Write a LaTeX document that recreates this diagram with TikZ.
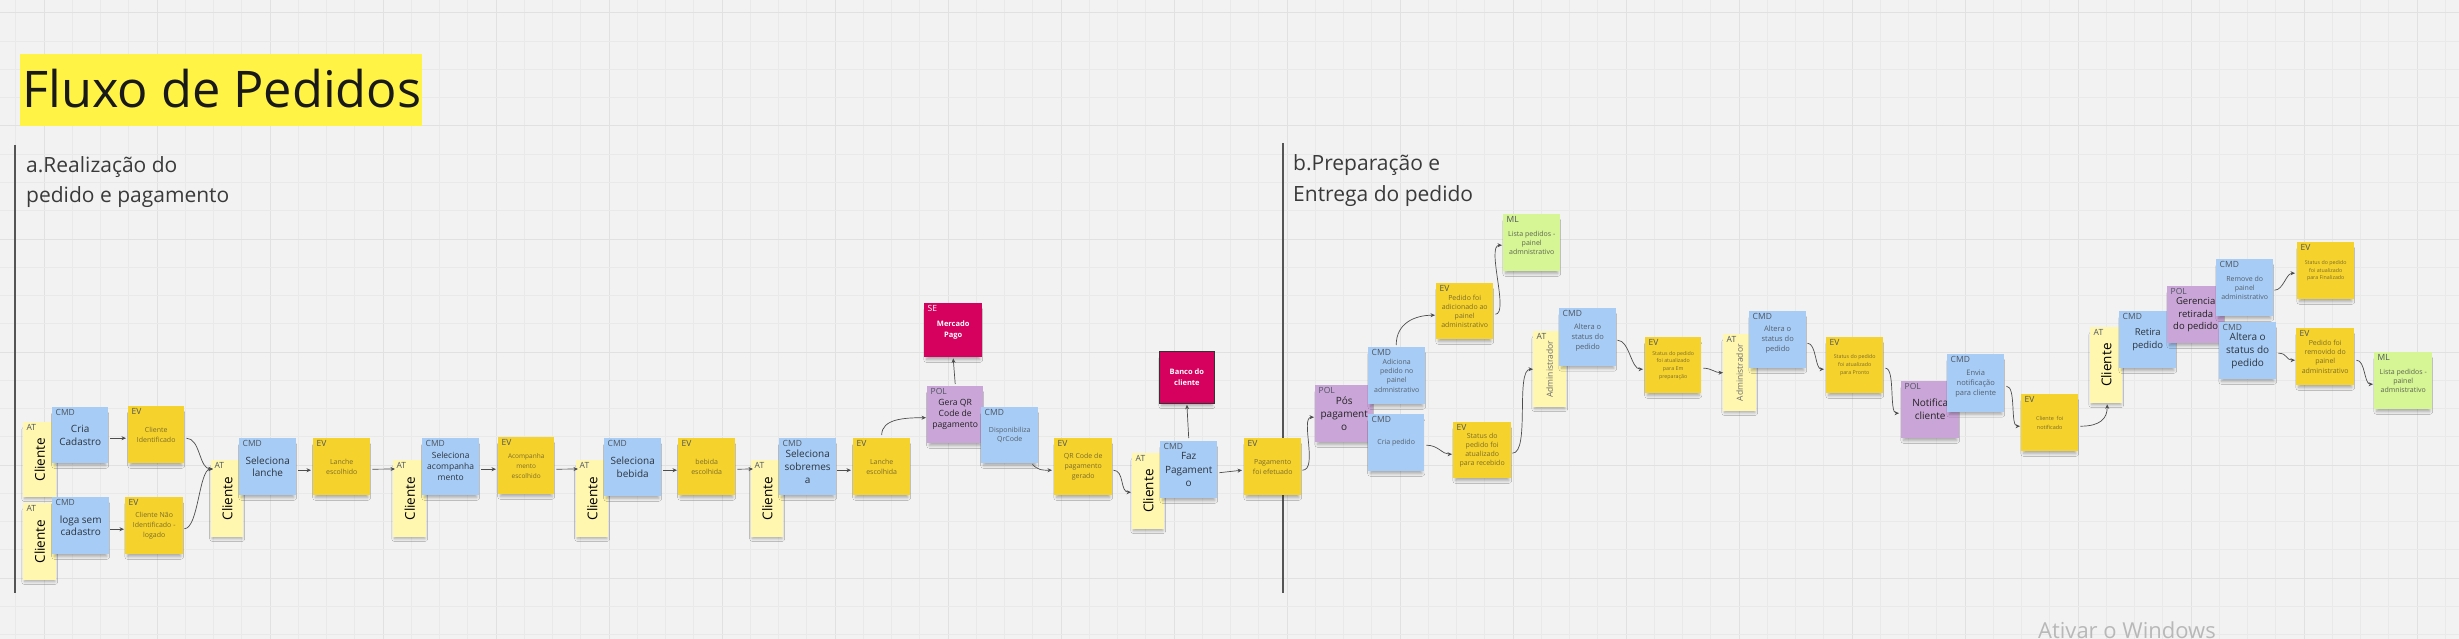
\documentclass[tikz,border=0pt]{standalone}
\usepackage{fontspec}
\setmainfont{Open Sans}
\usetikzlibrary{calc,arrows.meta,shadows.blur}

\definecolor{bgc}{HTML}{F2F2F2}
\definecolor{gmin}{HTML}{E9E9E9}
\definecolor{gmaj}{HTML}{E1E1E1}
\definecolor{cmdc}{HTML}{A7CCF5}
\definecolor{evc}{HTML}{F5D22C}
\definecolor{atc}{HTML}{FFF7B0}
\definecolor{polc}{HTML}{CAA6D8}
\definecolor{mlc}{HTML}{D6F595}
\definecolor{sec}{HTML}{D6005E}
\definecolor{titley}{HTML}{FFF445}
\definecolor{cmdtx}{HTML}{2C3440}
\definecolor{cmdsm}{HTML}{55606E}
\definecolor{evtx}{HTML}{7E6C2A}
\definecolor{tagc}{HTML}{4F5560}
\definecolor{poltx}{HTML}{222222}
\definecolor{mltx}{HTML}{5C6650}
\definecolor{attx}{HTML}{6A6A6A}
\definecolor{secc}{HTML}{3A3A3A}
\definecolor{linec}{HTML}{555555}
\definecolor{connc}{HTML}{4D4D4D}
\definecolor{wmc}{HTML}{B8B8B8}

\newcommand{\fz}[2]{\fontsize{#1}{#2}\selectfont}
\newcommand{\stk}[9]{%
  \node[#2, minimum width=#6pt, minimum height=#7pt, anchor=north west] (#1) at (#4,#5) {};
  \node[tag] (#1t) at (#1.north west) {#8};
  \node[txt, #3] (#1x) at (#1.center) {#9};
}

\begin{document}
\begin{tikzpicture}[x=1pt,y=-1pt,
  stkbase/.style={rectangle, inner sep=0pt, draw=none,
    blur shadow={shadow xshift=0pt, shadow yshift=-5pt, shadow scale=0.92,
      shadow blur radius=3pt, shadow blur steps=6, shadow opacity=30}},
  cmd/.style={stkbase, fill=cmdc},
  ev/.style={stkbase, fill=evc},
  atk/.style={stkbase, fill=atc},
  pol/.style={stkbase, fill=polc},
  ml/.style={stkbase, fill=mlc},
  sek/.style={stkbase, fill=sec},
  seb/.style={stkbase, fill=sec, draw=black!80, line width=0.8pt},
  tag/.style={font=\fz{8.5}{9}, text=tagc, inner xsep=3.5pt, inner ysep=2.5pt, anchor=north west},
  txt/.style={align=center, inner sep=0pt},
  tbig/.style={font=\fz{10}{12.7}, text=cmdtx},
  tsm/.style={font=\fz{7}{9.2}, text=cmdsm},
  tev/.style={font=\fz{7}{10}, text=evtx},
  tevs/.style={font=\fz{5.3}{7.7}, text=evtx},
  tpol/.style={font=\fz{10}{13}, text=poltx},
  tml/.style={font=\fz{7}{9.2}, text=mltx},
  tcli/.style={font=\fz{13.5}{13.5}, text=black, rotate=90},
  tadm/.style={font=\fz{8.5}{9}, text=attx, rotate=90},
  tse/.style={font=\fz{7.5}{11.5}\bfseries, text=white},
  conn/.style={draw=connc, line width=0.7pt, -{Stealth[length=4.5pt,width=4pt]}},
  secline/.style={draw=linec, line width=1.2pt}
]
\useasboundingbox (0,0) rectangle (2459,639);
\clip (0,0) rectangle (2459,639);
\fill[bgc] (0,0) rectangle (2459,639);

% grid
\foreach \i in {0,...,86} {
  \pgfmathsetmacro{\xx}{15.75+28.25*\i}
  \pgfmathtruncatemacro{\mm}{mod(\i,4)}
  \ifnum\mm=1
    \draw[gmaj, line width=1pt] (\xx,0) -- (\xx,639);
  \else
    \draw[gmin, line width=0.6pt] (\xx,0) -- (\xx,639);
  \fi
}
\foreach \j in {0,...,22} {
  \pgfmathsetmacro{\yy}{13+28.25*\j}
  \pgfmathtruncatemacro{\mm}{mod(\j,4)}
  \ifnum\mm=0
    \draw[gmaj, line width=1pt] (0,\yy) -- (2459,\yy);
  \else
    \draw[gmin, line width=0.6pt] (0,\yy) -- (2459,\yy);
  \fi
}

% title
\node[fill=titley, inner sep=0pt, minimum width=402pt, minimum height=72pt, anchor=north west] (titlebg) at (20,54) {};
\node[anchor=base west, inner sep=0pt, font=\fz{50.5}{52}, text=black!90] (title) at (22,108) {Fluxo de Pedidos};

% sections
\draw[secline] (15,145) -- (15,593);
\draw[secline] (1283,143) -- (1283,593);
\node[anchor=base west, inner sep=0pt, font=\fz{21}{30}, text=secc] (seca1) at (26,173) {a.Realização do};
\node[anchor=base west, inner sep=0pt, font=\fz{21}{30}, text=secc] (seca2) at (26,203) {pedido e pagamento};
\node[anchor=base west, inner sep=0pt, font=\fz{21}{30}, text=secc] (secb1) at (1293,171) {b.Preparação e};
\node[anchor=base west, inner sep=0pt, font=\fz{21}{30}, text=secc] (secb2) at (1293,201) {Entrega do pedido};

% ---------- section a ----------
\stk{at1}{atk}{tcli}{23}{422}{33}{75}{AT}{Cliente}
\stk{c1}{cmd}{tbig}{52}{407}{56}{56}{CMD}{Cria\\Cadastro}
\stk{e1}{ev}{tev}{128}{406}{56}{57}{EV}{Cliente\\Identificado}
\stk{at2}{atk}{tcli}{23}{503}{33}{77}{AT}{Cliente}
\stk{c2}{cmd}{tbig}{52}{497}{57}{57}{CMD}{loga sem\\cadastro}
\stk{e2}{ev}{tev}{125}{497}{58}{57}{EV}{Cliente Não\\Identificado -\\logado}
\stk{at3}{atk}{tcli}{211}{460}{32}{77}{AT}{Cliente}
\stk{c3}{cmd}{tbig}{239}{438}{57}{57}{CMD}{Seleciona\\lanche}
\stk{e3}{ev}{tev}{313}{438}{57}{57}{EV}{Lanche\\escolhido}
\stk{at4}{atk}{tcli}{393}{460}{33}{77}{AT}{Cliente}
\stk{c4}{cmd}{tbig, font=\fz{8.5}{11}}{422}{438}{57}{57}{CMD}{Seleciona\\acompanha\\mento}
\stk{e4}{ev}{tev, font=\fz{6.5}{10}}{498}{437}{56}{57}{EV}{Acompanha\\mento\\escolhido}
\stk{at5}{atk}{tcli}{576}{460}{32}{77}{AT}{Cliente}
\stk{c5}{cmd}{tbig}{604}{438}{57}{58}{CMD}{Seleciona\\bebida}
\stk{e5}{ev}{tev}{678}{438}{57}{57}{EV}{bebida\\escolhida}
\stk{at6}{atk}{tcli}{751}{460}{32}{77}{AT}{Cliente}
\stk{c6}{cmd}{tbig}{779}{438}{57}{57}{CMD}{Seleciona\\sobremes\\a}
\stk{e6}{ev}{tev}{853}{438}{57}{57}{EV}{Lanche\\escolhida}
\stk{se1}{sek}{tse}{924}{303}{58}{54}{\textcolor{white}{SE}}{Mercado\\Pago}
\stk{p1}{pol}{tpol, font=\fz{8.6}{11}}{927}{386}{56}{57}{POL}{Gera QR\\Code de\\pagamento}
\stk{c7}{cmd}{tsm}{981}{407}{57}{56}{CMD}{Disponibiliza\\QrCode}
\stk{e7}{ev}{tev}{1054}{438}{58}{57}{EV}{QR Code de\\pagamento\\gerado}
\stk{at7}{atk}{tcli}{1132}{453}{32}{76}{AT}{Cliente}
\stk{c8}{cmd}{tbig, font=\fz{10}{13.3}}{1160}{441}{57}{57}{CMD}{Faz\\Pagament\\o}
\stk{se2}{seb}{tse}{1159}{351}{55}{52}{}{Banco do\\cliente}
\stk{e8}{ev}{tev}{1244}{438}{57}{57}{EV}{Pagamento\\foi efetuado}

% ---------- section b ----------
\stk{pol2}{pol}{tpol}{1315}{385}{58}{57}{POL}{Pós\\pagament\\o}
\stk{c9}{cmd}{tsm}{1368}{347}{57}{57}{CMD}{Adiciona\\pedido no\\painel\\admnistrativo}
\stk{c10}{cmd}{tsm}{1368}{414}{56}{57}{CMD}{Cria pedido}
\stk{e9}{ev}{tev, font=\fz{7}{9.2}}{1436}{283}{57}{56}{EV}{Pedido foi\\adicionado ao\\painel\\administrativo}
\stk{ml1}{ml}{tml}{1503}{214}{57}{57}{ML}{Lista pedidos -\\painel\\admnistrativo}
\stk{e10}{ev}{tev, font=\fz{7}{9.2}}{1453}{422}{58}{56}{EV}{Status do\\pedido foi\\atualizado\\para recebido}
\stk{at8}{atk}{tadm}{1533}{331}{33}{76}{AT}{Administrador}
\stk{c11}{cmd}{tsm, font=\fz{7.5}{10}}{1559}{308}{57}{58}{CMD}{Altera o\\status do\\pedido}
\stk{e11}{ev}{tevs}{1645}{337}{56}{56}{EV}{Status do pedido\\foi atualizado\\para Em\\preparação}
\stk{at9}{atk}{tadm}{1723}{334}{33}{77}{AT}{Administrador}
\stk{c12}{cmd}{tsm, font=\fz{7.5}{10}}{1749}{311}{57}{57}{CMD}{Altera o\\status do\\pedido}
\stk{e12}{ev}{tevs}{1826}{337}{57}{56}{EV}{Status do pedido\\foi atualizado\\para Pronto}
\stk{pol3}{pol}{tpol}{1901}{381}{58}{57}{POL}{Notifica\\cliente}
\stk{c13}{cmd}{tsm, font=\fz{7.5}{10}}{1947}{354}{57}{58}{CMD}{Envia\\notificação\\para cliente}
\stk{e13}{ev}{tevs, font=\fz{5.5}{8.5}}{2021}{394}{57}{57}{EV}{Cliente\ \ foi\\notificado}
\stk{at10}{atk}{tcli}{2090}{327}{32}{76}{AT}{Cliente}
\stk{c14}{cmd}{tbig, font=\fz{9.5}{12.7}}{2119}{311}{57}{57}{CMD}{Retira\\pedido}
\stk{pol4}{pol}{tpol, font=\fz{9.5}{12.7}}{2167}{286}{57}{57}{POL}{Gerencia\\retirada\\do pedido}
\stk{c15}{cmd}{tsm}{2216}{259}{57}{57}{CMD}{Remove do\\painel\\administrativo}
\stk{c16}{cmd}{tbig, font=\fz{10}{13}}{2219}{322}{57}{57}{CMD}{Altera o\\status do\\pedido}
\stk{e14}{ev}{tevs}{2297}{242}{57}{57}{EV}{Status do pedido\\foi atualizado\\para Finalizado}
\stk{e15}{ev}{tev, font=\fz{7}{9.2}}{2296}{328}{58}{57}{EV}{Pedido foi\\removido do\\painel\\administrativo}
\stk{ml2}{ml}{tml}{2374}{352}{58}{57}{ML}{Lista pedidos -\\painel\\admnistrativo}

% ---------- connectors ----------
\draw[conn] ($(c1.east)+(2,3)$) -- ($(e1.west)+(-2,3.5)$);
\draw[conn] ($(c2.east)+(1,3.5)$) -- ($(e2.west)+(-1,3.5)$);
\draw[conn] ($(e1.east)+(2,3.5)$) .. controls +(14,0) and +(-14,0) .. ($(at3.north west)+(2,9)$);
\draw[conn] ($(e2.east)+(1,3)$) .. controls +(14,0) and +(-14,0) .. ($(at3.north west)+(2,9)$);
\draw[conn] ($(c3.east)+(2,3.5)$) -- ($(e3.west)+(-2,3.5)$);
\draw[conn] ($(e3.east)+(2,2.5)$) -- ($(at4.north west)+(2,9)$);
\draw[conn] ($(c4.east)+(2,2.5)$) -- ($(e4.west)+(-2,3.5)$);
\draw[conn] ($(e4.east)+(2,3.5)$) -- ($(at5.north west)+(2,9)$);
\draw[conn] ($(c5.east)+(2,3)$) -- ($(e5.west)+(-1,3.5)$);
\draw[conn] ($(e5.east)+(2,2.5)$) -- ($(at6.north west)+(2,9)$);
\draw[conn] ($(c6.east)+(1,3.5)$) -- ($(e6.west)+(-2,3.5)$);
\draw[conn] ($(e6.north)+(0,-3)$) .. controls +(0,-16) and +(-22,0) .. ($(p1.west)+(-1,3)$);
\draw[conn] ($(p1.north)+(0,-2)$) -- ($(se1.south)+(0,1)$);
\draw[conn] ($(c7.south east)+(-6,1)$) .. controls +(6,6) and +(-10,0) .. ($(e7.west)+(-2,3.5)$);
\draw[conn] ($(e7.east)+(1,3.5)$) .. controls +(11,0) and +(-11,0) .. ($(at7.west)+(-1,1)$);
\draw[conn] ($(c8.north)+(0,-3)$) -- ($(se2.south)+(0,1)$);
\draw[conn] ($(c8.east)+(2,3)$) -- ($(e8.west)+(-2,3.5)$);
\draw[conn] ($(e8.east)+(1,3.5)$) .. controls +(16,0) and +(-14,0) .. ($(pol2.west)+(-1,3.5)$);
\draw[conn] ($(c9.north)+(-0.5,-2)$) .. controls +(0,-22) and +(-20,0) .. ($(e9.west)+(-1,4)$);
\draw[conn] ($(e9.east)+(2,3)$) .. controls +(14,0) and +(-16,0) .. ($(ml1.west)+(-1,2.5)$);
\draw[conn] ($(c10.east)+(2,2.5)$) .. controls +(12,0) and +(-10,0) .. ($(e10.west)+(-1,4)$);
\draw[conn] ($(e10.east)+(1,3)$) .. controls +(18,0) and +(-18,0) .. (at8.west);
\draw[conn] ($(c11.east)+(1,3)$) .. controls +(12,0) and +(-12,0) .. ($(e11.west)+(-2,4)$);
\draw[conn] ($(e11.east)+(2,3)$) .. controls +(8,0) and +(-8,0) .. (at9.west);
\draw[conn] ($(c12.east)+(1,3.5)$) .. controls +(9,0) and +(-9,0) .. ($(e12.west)+(-2,4)$);
\draw[conn] ($(e12.east)+(2,3)$) .. controls +(10,0) and +(-10,0) .. ($(pol3.west)+(-2,3.5)$);
\draw[conn] ($(c13.east)+(2,3)$) .. controls +(10,0) and +(-10,0) .. ($(e13.west)+(-1,3.5)$);
\draw[conn] ($(e13.east)+(2,3.5)$) .. controls +(20,0) and +(0,14) .. ($(at10.south)+(1,1)$);
\draw[conn] ($(c15.east)+(1,2.5)$) .. controls +(9,0) and +(-9,0) .. ($(e14.west)+(-2,2.5)$);
\draw[conn] ($(c16.east)+(2,2.5)$) .. controls +(9,0) and +(-9,0) .. ($(e15.west)+(-1,3.5)$);
\draw[conn] ($(e15.east)+(2,3.5)$) .. controls +(9,0) and +(-9,0) .. ($(ml2.west)+(-1,3.5)$);

% watermark
\node[anchor=base west, inner sep=0pt, font=\fz{22}{22}, text=wmc] (wmark) at (2038,638) {Ativar o Windows};
\end{tikzpicture}
\end{document}
